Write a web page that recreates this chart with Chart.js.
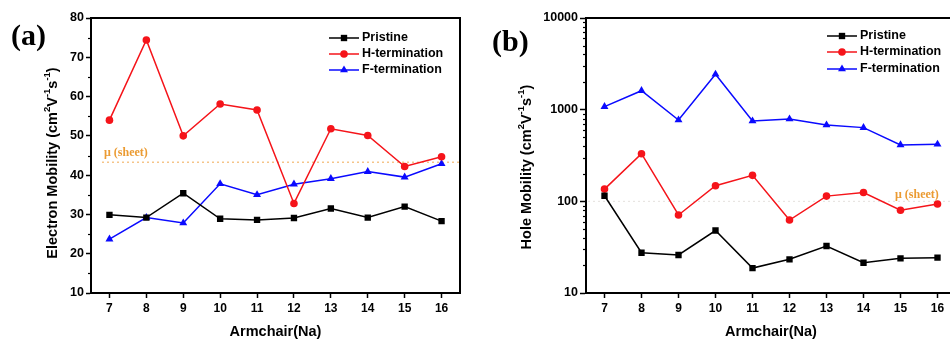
<!DOCTYPE html>
<html>
<head>
<meta charset="utf-8">
<script src="https://cdn.jsdelivr.net/npm/chart.js@4.4.1/dist/chart.umd.min.js"></script>
<style>
  html, body { margin: 0; padding: 0; background: #fff; overflow: hidden; }
  #wrap { position: relative; width: 950px; height: 341px; overflow: hidden; }
  canvas { position: absolute; top: 0; }
  #chartA { left: 0; }
  #chartB { left: 475px; }
</style>
</head>
<body>
<div id="wrap">
  <canvas id="chartA" width="475" height="341"></canvas>
  <canvas id="chartB" width="500" height="341"></canvas>
</div>
<script>
// x categories
const armchair = [7, 8, 9, 10, 11, 12, 13, 14, 15, 16];

// (a) electron mobility, cm2/Vs
const electronPristine = [29.9, 29.2, 35.4, 28.9, 28.6, 29.1, 31.5, 29.2, 32.0, 28.3];
const electronH = [54.0, 74.4, 50.0, 58.1, 56.6, 32.8, 51.8, 50.1, 42.2, 44.7];
const electronF = [23.7, 29.2, 27.8, 37.8, 35.0, 37.7, 39.1, 40.9, 39.5, 42.9];
const electronSheet = 43.3;
const electronTicks = [10, 20, 30, 40, 50, 60, 70, 80];
const electronMinor = [15, 25, 35, 45, 55, 65, 75];

// (b) hole mobility, cm2/Vs (log)
const holePristine = [115, 27.5, 26, 48, 18.7, 23.3, 32.6, 21.4, 23.9, 24.3];
const holeH = [136, 331, 71, 148, 192, 62.5, 114, 125, 80, 93.5];
const holeF = [1080, 1610, 771, 2430, 751, 791, 680, 637, 412, 419];
const holeSheet = 100;
const holeTicks = [10, 100, 1000, 10000];
const holeMinor = [];
for (let d = 10; d < 10000; d *= 10) {
  for (let k = 2; k <= 9; k++) holeMinor.push(k * d);
}

const seriesNames = ["Pristine", "H-termination", "F-termination"];
const seriesColors = ["#000000", "#f5141a", "#0a0aff"];
const seriesMarkers = ["rect", "circle", "triangle"];
const markerRadius = [4.5, 3.8, 4.6];

const SANS = "'Liberation Sans', Arial, sans-serif";
const SERIF = "'Liberation Serif', 'Times New Roman', serif";

// draws a marker by hand (legend)
const drawMarker = (ctx, style, x, y, r, color) => {
  ctx.save();
  ctx.fillStyle = color;
  ctx.beginPath();
  if (style === "rect") {
    const s = Math.SQRT1_2 * r;
    ctx.rect(x - s, y - s, 2 * s, 2 * s);
  } else if (style === "circle") {
    ctx.arc(x, y, r, 0, Math.PI * 2);
  } else {
    ctx.moveTo(x, y - r);
    ctx.lineTo(x + r * 0.866, y + r * 0.5);
    ctx.lineTo(x - r * 0.866, y + r * 0.5);
  }
  ctx.closePath();
  ctx.fill();
  ctx.restore();
};

// axis title with superscripts, rotated
const drawYTitle = (ctx, parts, cx, cy) => {
  const base = "bold 14.5px " + SANS;
  const sup = "bold 9.5px " + SANS;
  ctx.save();
  ctx.translate(cx, cy);
  ctx.rotate(-Math.PI / 2);
  let total = 0;
  parts.forEach((p) => {
    ctx.font = p.sup ? sup : base;
    total += ctx.measureText(p.t).width;
  });
  let x = -total / 2;
  ctx.fillStyle = "#000";
  ctx.textBaseline = "middle";
  ctx.textAlign = "left";
  parts.forEach((p) => {
    ctx.font = p.sup ? sup : base;
    ctx.fillText(p.t, x, p.sup ? -6 : 0);
    x += ctx.measureText(p.t).width;
  });
  ctx.restore();
};

const decorPlugin = {
  id: "decor",
  beforeDatasetsDraw(chart, args, opts) {
    const ctx = chart.ctx;
    const ca = chart.chartArea;
    const y = chart.scales.y.getPixelForValue(opts.sheet);
    ctx.save();
    ctx.strokeStyle = opts.sheetColor;
    ctx.lineWidth = 1;
    ctx.setLineDash([2, 3]);
    ctx.beginPath();
    ctx.moveTo(ca.left + opts.sheetStart, y);
    ctx.lineTo(ca.right, y);
    ctx.stroke();
    ctx.restore();
  },
  afterDraw(chart, args, opts) {
    const ctx = chart.ctx;
    const ca = chart.chartArea;
    const yScale = chart.scales.y;

    // frame
    ctx.save();
    ctx.strokeStyle = "#000";
    ctx.lineWidth = 2;
    ctx.strokeRect(ca.left, ca.top, ca.right - ca.left, ca.bottom - ca.top);

    // minor ticks
    ctx.lineWidth = 1.2;
    opts.minor.forEach((v) => {
      const y = Math.round(yScale.getPixelForValue(v)) + 0.5;
      ctx.beginPath();
      ctx.moveTo(ca.left - 3, y);
      ctx.lineTo(ca.left, y);
      ctx.stroke();
    });

    // panel label
    ctx.fillStyle = "#000";
    ctx.font = "bold 30px " + SERIF;
    ctx.textBaseline = "middle";
    ctx.textAlign = "left";
    ctx.fillText(opts.panel, opts.panelX, opts.panelY);

    // mu label
    ctx.fillStyle = "#eb9b32";
    ctx.font = "bold 12px " + SERIF;
    ctx.fillText("\u03bc (sheet)", opts.muX, opts.muY);

    // legend
    ctx.font = "bold 12.5px " + SANS;
    chart.data.datasets.forEach((ds, i) => {
      const ly = opts.legendY[i];
      ctx.strokeStyle = ds.borderColor;
      ctx.lineWidth = 1.5;
      ctx.beginPath();
      ctx.moveTo(opts.legendX, ly);
      ctx.lineTo(opts.legendX + 30, ly);
      ctx.stroke();
      drawMarker(ctx, ds.pointStyle, opts.legendX + 15, ly, ds.pointRadius, ds.borderColor);
      ctx.fillStyle = "#000";
      ctx.fillText(ds.label, opts.legendX + 33, ly);
    });
    ctx.restore();

    drawYTitle(ctx, opts.yTitle, opts.yTitleX, opts.yTitleY);
  }
};

const makeDatasets = (values) =>
  values.map((vals, i) => ({
    label: seriesNames[i],
    data: vals,
    borderColor: seriesColors[i],
    backgroundColor: seriesColors[i],
    borderWidth: 1.5,
    pointStyle: seriesMarkers[i],
    pointRadius: markerRadius[i],
    pointBorderWidth: 0,
    pointHoverRadius: markerRadius[i],
    tension: 0
  }));

const xAxis = () => ({
  type: "category",
  offset: true,
  grid: { drawOnChartArea: false, offset: false, tickLength: 5, color: "#000", tickWidth: 1.5 },
  border: { color: "#000", width: 2 },
  ticks: { color: "#000", font: { family: SANS, size: 12, weight: "bold" }, padding: 3, maxRotation: 0, autoSkip: false },
  title: { display: true, text: "Armchair(Na)", color: "#000", font: { family: SANS, size: 14.5, weight: "bold" }, padding: { top: 0, bottom: 0 } },
  afterFit: (scale) => { scale.height = 48; }
});

const baseOptions = {
  responsive: false,
  devicePixelRatio: 1,
  animation: false,
  events: [],
  plugins: { legend: { display: false }, tooltip: { enabled: false } }
};

new Chart(document.getElementById("chartA"), {
  type: "line",
  data: {
    labels: armchair.map(String),
    datasets: makeDatasets([electronPristine, electronH, electronF])
  },
  options: {
    ...baseOptions,
    layout: { padding: { left: 0, right: 15, top: 18, bottom: 0 } },
    scales: {
      x: xAxis(),
      y: {
        type: "linear",
        min: 10,
        max: 80,
        afterBuildTicks: (scale) => { scale.ticks = electronTicks.map((v) => ({ value: v })); },
        grid: { drawOnChartArea: false, tickLength: 5, color: "#000", tickWidth: 1.5 },
        border: { color: "#000", width: 2 },
        ticks: { color: "#000", font: { family: SANS, size: 12.5, weight: "bold" }, padding: 2 },
        afterFit: (scale) => { scale.width = 91; }
      }
    },
    plugins: {
      ...baseOptions.plugins,
      decor: {
        sheet: electronSheet,
        sheetColor: "#f0a850",
        sheetStart: 11,
        minor: electronMinor,
        panel: "(a)",
        panelX: 11,
        panelY: 37,
        muX: 104,
        muY: 153,
        legendX: 329,
        legendY: [38, 54, 70],
        yTitle: [
          { t: "Electron Mobility (cm" }, { t: "2", sup: true }, { t: "V" },
          { t: "-1", sup: true }, { t: "s" }, { t: "-1", sup: true }, { t: ")" }
        ],
        yTitleX: 53,
        yTitleY: 163
      }
    }
  },
  plugins: [decorPlugin]
});

new Chart(document.getElementById("chartB"), {
  type: "line",
  data: {
    labels: armchair.map(String),
    datasets: makeDatasets([holePristine, holeH, holeF])
  },
  options: {
    ...baseOptions,
    layout: { padding: { left: 0, right: 19, top: 18, bottom: 0 } },
    scales: {
      x: xAxis(),
      y: {
        type: "logarithmic",
        min: 10,
        max: 10000,
        afterBuildTicks: (scale) => { scale.ticks = holeTicks.map((v) => ({ value: v })); },
        grid: { drawOnChartArea: false, tickLength: 6, color: "#000", tickWidth: 1.5 },
        border: { color: "#000", width: 2 },
        ticks: { color: "#000", font: { family: SANS, size: 12.5, weight: "bold" }, padding: 2, callback: (v) => String(v) },
        afterFit: (scale) => { scale.width = 111; }
      }
    },
    plugins: {
      ...baseOptions.plugins,
      decor: {
        sheet: holeSheet,
        sheetColor: "#e4e0dc",
        sheetStart: 2,
        minor: holeMinor,
        panel: "(b)",
        panelX: 17,
        panelY: 43,
        muX: 420,
        muY: 195,
        legendX: 352,
        legendY: [36, 52, 69],
        yTitle: [
          { t: "Hole Mobility (cm" }, { t: "2", sup: true }, { t: "V" },
          { t: "-1", sup: true }, { t: "s" }, { t: "-1", sup: true }, { t: ")" }
        ],
        yTitleX: 52,
        yTitleY: 167
      }
    }
  },
  plugins: [decorPlugin]
});
</script>
</body>
</html>
